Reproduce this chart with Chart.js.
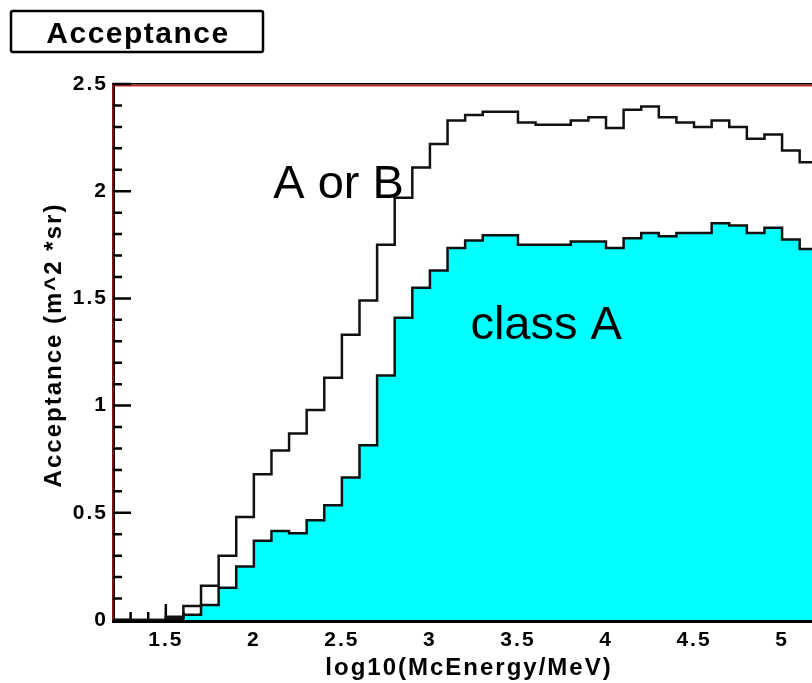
<!DOCTYPE html>
<html>
<head>
<meta charset="utf-8">
<title>Acceptance</title>
<script src="https://cdn.jsdelivr.net/npm/chart.js@4.4.1/dist/chart.umd.min.js"></script>
<style>
  html, body { margin: 0; padding: 0; background: #fff; overflow: hidden; }
  canvas { display: block; }
</style>
</head>
<body>
<canvas id="acceptanceChart" width="812" height="683"></canvas>
<script>
// histogram bins: low edge in log10(McEnergy/MeV), all 0.1 wide
const binLow = [1.2, 1.3, 1.4, 1.5, 1.6, 1.7, 1.8, 1.9, 2.0, 2.1, 2.2, 2.3, 2.4, 2.5, 2.6, 2.7, 2.8, 2.9, 3.0,
  3.1, 3.2, 3.3, 3.4, 3.5, 3.6, 3.7, 3.8, 3.9, 4.0, 4.1, 4.2, 4.3, 4.4, 4.5, 4.6, 4.7, 4.8, 4.9, 5.0, 5.1];
const binWidth = 0.1;

// acceptance (m^2 sr) per bin
const aOrB = [0, 0, 0, 0.015, 0.065, 0.16, 0.30, 0.48, 0.68, 0.79, 0.87, 0.98, 1.13, 1.33, 1.49, 1.75, 1.97, 2.11, 2.22,
  2.33, 2.355, 2.37, 2.37, 2.32, 2.31, 2.31, 2.33, 2.345, 2.295, 2.38, 2.395, 2.345, 2.32, 2.30, 2.33, 2.30, 2.245, 2.265, 2.19, 2.135];
const classA = [0, 0, 0, 0.004, 0.025, 0.07, 0.15, 0.25, 0.37, 0.415, 0.405, 0.465, 0.535, 0.665, 0.815, 1.14, 1.41, 1.55, 1.63,
  1.735, 1.77, 1.795, 1.795, 1.75, 1.75, 1.75, 1.765, 1.765, 1.735, 1.78, 1.805, 1.79, 1.805, 1.805, 1.85, 1.84, 1.805, 1.83, 1.775, 1.73];

const xTicks = [1.5, 2, 2.5, 3, 3.5, 4, 4.5, 5];
const yTicks = [0, 0.5, 1, 1.5, 2, 2.5];

const FONT = '"Liberation Sans", Arial, Helvetica, sans-serif';

// turn a list of bin contents into step points (one extra point closes the last bin)
function histPoints(vals) {
  const pts = binLow.map((x, i) => ({ x: x, y: vals[i] }));
  pts.push({ x: binLow[binLow.length - 1] + binWidth, y: vals[vals.length - 1] });
  return pts;
}

// ROOT-style frame: inward ticks, drawn under the histograms
const axisFrame = {
  id: 'axisFrame',
  beforeDraw(chart) {
    chart.ctx.letterSpacing = '2px';
  },
  beforeDatasetsDraw(chart) {
    const { ctx, chartArea: a, scales: { x, y } } = chart;
    ctx.save();
    ctx.lineCap = 'butt';
    // red frame (top + left)
    ctx.strokeStyle = '#c8281e';
    ctx.lineWidth = 2;
    ctx.beginPath();
    ctx.moveTo(a.left, a.top + 1.5);
    ctx.lineTo(a.right, a.top + 1.5);
    ctx.stroke();
    ctx.strokeStyle = '#000';
    ctx.lineWidth = 1.5;
    ctx.beginPath();
    ctx.moveTo(a.left, a.top - 0.25);
    ctx.lineTo(a.right, a.top - 0.25);
    ctx.stroke();

    // axes
    ctx.strokeStyle = '#000';
    ctx.lineWidth = 3;
    ctx.beginPath();
    ctx.moveTo(a.left + 0.5, a.top - 1);
    ctx.lineTo(a.left + 0.5, a.bottom + 1.5);
    ctx.lineTo(a.right, a.bottom + 1.5);
    ctx.stroke();
    ctx.strokeStyle = '#c8281e';
    ctx.lineWidth = 1.2;
    ctx.beginPath();
    ctx.moveTo(a.left, a.top);
    ctx.lineTo(a.left, a.bottom);
    ctx.stroke();

    // ticks
    ctx.strokeStyle = '#000';
    ctx.lineWidth = 2.5;
    ctx.beginPath();
    for (let k = 0; k <= 25; k++) {
      const py = y.getPixelForValue(k / 10);
      const len = k % 5 === 0 ? 18 : 9;
      ctx.moveTo(a.left, py);
      ctx.lineTo(a.left + len, py);
    }
    for (let k = 13; k <= 51; k++) {
      const px = x.getPixelForValue(k / 10);
      const len = k % 5 === 0 ? 16 : 8;
      ctx.moveTo(px, a.bottom);
      ctx.lineTo(px, a.bottom - len);
    }
    ctx.stroke();
    ctx.restore();
  },
  afterDraw(chart) {
    const { ctx, scales: { x, y } } = chart;
    ctx.save();
    ctx.fillStyle = '#000';

    // title box
    ctx.strokeStyle = '#000';
    ctx.lineWidth = 2.5;
    ctx.beginPath();
    ctx.roundRect(11, 11, 252, 41, 2);
    ctx.stroke();
    ctx.letterSpacing = '1.5px';
    ctx.font = 'bold 30px ' + FONT;
    ctx.textAlign = 'center';
    ctx.textBaseline = 'alphabetic';
    ctx.fillText('Acceptance', 138, 43);

    // axis titles
    ctx.letterSpacing = '2px';
    ctx.font = 'bold 24px ' + FONT;
    ctx.fillText('log10(McEnergy/MeV)', 469, 675);
    ctx.save();
    ctx.translate(61, 345);
    ctx.rotate(-Math.PI / 2);
    ctx.fillText('Acceptance (m^2 *sr)', 0, 0);
    ctx.restore();

    // curve labels
    ctx.letterSpacing = '0px';
    ctx.font = '47px ' + FONT;
    ctx.textAlign = 'left';
    ctx.fillText('A or B', x.getPixelForValue(2.11), y.getPixelForValue(1.97));
    ctx.fillText('class A', x.getPixelForValue(3.23), y.getPixelForValue(1.31));
    ctx.restore();
  }
};

new Chart(document.getElementById('acceptanceChart').getContext('2d'), {
  type: 'line',
  data: {
    datasets: [{
      label: 'A or B',
      data: histPoints(aOrB),
      stepped: true,
      fill: false,
      borderColor: '#111',
      borderWidth: 2.5,
      pointRadius: 0
    }, {
      label: 'class A',
      data: histPoints(classA),
      stepped: true,
      fill: 'origin',
      backgroundColor: '#00ffff',
      borderColor: '#111',
      borderWidth: 2.5,
      pointRadius: 0
    }]
  },
  options: {
    responsive: false,
    animation: false,
    devicePixelRatio: 1,
    layout: { padding: { top: 84, right: 0, bottom: 0, left: 0 } },
    plugins: { legend: { display: false }, tooltip: { enabled: false } },
    scales: {
      x: {
        type: 'linear',
        min: 1.2,
        max: 5.17,
        grid: { display: false, drawTicks: false },
        border: { display: false },
        afterBuildTicks: (s) => { s.ticks = xTicks.map(v => ({ value: v })); },
        afterFit: (s) => { s.height = 63; },
        ticks: {
          color: '#000',
          padding: 8,
          maxRotation: 0,
          autoSkip: false,
          callback: (v) => String(v),
          font: { family: FONT, size: 21, weight: 'bold' }
        }
      },
      y: {
        min: 0,
        max: 2.5,
        grid: { display: false, drawTicks: false },
        border: { display: false },
        afterBuildTicks: (s) => { s.ticks = yTicks.map(v => ({ value: v })); },
        afterFit: (s) => { s.width = 113; },
        ticks: {
          color: '#000',
          padding: 5,
          autoSkip: false,
          callback: (v) => String(v),
          font: { family: FONT, size: 21, weight: 'bold' }
        }
      }
    }
  },
  plugins: [axisFrame]
});
</script>
</body>
</html>
